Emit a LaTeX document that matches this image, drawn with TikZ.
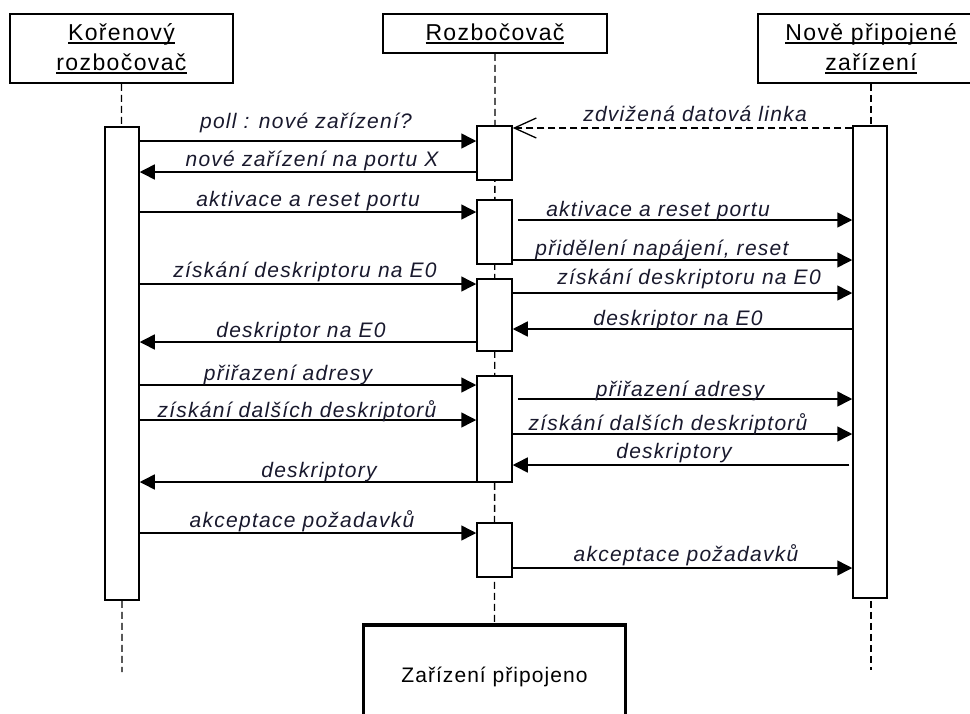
\documentclass[tikz,border=0pt]{standalone}
\usepackage{fontspec}
\setmainfont{Liberation Sans}
\newfontfamily\headfont[LetterSpace=6]{Liberation Sans}
\newfontfamily\lblfont[LetterSpace=6]{Liberation Sans}
\newfontfamily\endfont[LetterSpace=5]{Liberation Sans}
\usetikzlibrary{arrows.meta}
\definecolor{txt}{RGB}{25,25,45}
\newcommand\ulx[1]{\leavevmode\setbox0\hbox{#1}\rlap{\rule[-3.5pt]{\wd0}{1.3pt}}\box0}
\tikzset{
  headbox/.style={draw, line width=1.8pt, fill=white, inner sep=0pt, align=center,
    font=\headfont\fontsize{23}{30}\selectfont, text=black},
  actbar/.style={draw, line width=1.5pt, fill=white, inner sep=0pt, minimum width=35pt},
  lifeline/.style={line width=1.3pt, dash pattern=on 7pt off 4pt},
  msg/.style={line width=1.5pt, -{Triangle[length=15pt,width=15pt]}},
  reply/.style={line width=1.3pt, dash pattern=on 7pt off 4pt, -{Straight Barb[length=22pt,width=20pt,line width=1.3pt]}},
  lbl/.style={font=\lblfont\itshape\fontsize{21}{24}\selectfont, text=txt, inner sep=0pt, anchor=base},
  endbox/.style={draw, line width=3.5pt, inner sep=0pt, font=\endfont\fontsize{21}{24}\selectfont, text=black}
}
\begin{document}
\begin{tikzpicture}[x=1pt,y=-1pt]
\useasboundingbox (0,0) rectangle (970,713);
\clip (0,0) rectangle (970,713);
% heads
\node[headbox, minimum width=223pt, minimum height=69pt] (hL) at (121.5,48.5) {\ulx{Kořenový}\\\ulx{rozbočovač}};
\node[headbox, minimum width=224pt, minimum height=39pt] (hM) at (495,33.5) {\ulx{Rozbočovač}};
\node[headbox, minimum width=226pt, minimum height=69pt] (hR) at (871,48.5) {\ulx{Nově připojené}\\\ulx{zařízení}};
% end box
\node[endbox, minimum width=262pt, minimum height=110pt, anchor=north] (E) at (494.5,623) {\raisebox{10pt}{Zařízení připojeno}};
% lifeline ends
\coordinate (endL) at (122,672);
\coordinate (endR) at (871,670);
\draw[lifeline] (hL.south) -- (endL);
\draw[lifeline] (hM.south) -- (E.north);
\draw[lifeline] (hR.south) -- (endR);
% activation bars
\node[actbar, minimum width=34pt, minimum height=473pt] (L) at (122,363.5) {};
\node[actbar, minimum width=34pt, minimum height=472pt] (R) at (870,362) {};
\node[actbar, minimum height=54pt] (M1) at (494.5,153) {};
\node[actbar, minimum height=64pt] (M2) at (494.5,232) {};
\node[actbar, minimum height=72pt] (M3) at (494.5,315) {};
\node[actbar, minimum height=106pt] (M4) at (494.5,429) {};
\node[actbar, minimum height=54pt] (M5) at (494.5,550) {};
% messages
\draw[msg] (L.east |- 0,141) -- (M1.west |- 0,141);
\node[lbl] (t1) at (306,128) {poll : nové zařízení?};
\draw[msg] (M1.west |- 0,172) -- (L.east |- 0,172);
\node[lbl] (t2) at (312,166) {nové zařízení na portu X};
\draw[reply] (R.west |- 0,128) -- (M1.east |- 0,128);
\node[lbl] (t3) at (695,121) {zdvižená datová linka};
\draw[msg] (L.east |- 0,212) -- (M2.west |- 0,212);
\node[lbl] (t4) at (308,206) {aktivace a reset portu};
\draw[msg] ([xshift=5pt]M2.east |- 0,220) -- (R.west |- 0,220);
\node[lbl] (t5) at (658,216) {aktivace a reset portu};
\draw[msg] (M2.east |- 0,260) -- (R.west |- 0,260);
\node[lbl] (t6) at (662,255) {přidělení napájení, reset};
\draw[msg] (L.east |- 0,284) -- (M3.west |- 0,284);
\node[lbl] (t7) at (305,277) {získání deskriptoru na E0};
\draw[msg] (M3.east |- 0,293) -- (R.west |- 0,293);
\node[lbl] (t8) at (689,284) {získání deskriptoru na E0};
\draw[msg] (R.west |- 0,329) -- (M3.east |- 0,329);
\node[lbl] (t9) at (678,325) {deskriptor na E0};
\draw[msg] (M3.west |- 0,342) -- (L.east |- 0,342);
\node[lbl] (t10) at (301,337) {deskriptor na E0};
\draw[msg] (L.east |- 0,385) -- (M4.west |- 0,385);
\node[lbl] (t11) at (288,380) {přiřazení adresy};
\draw[msg] ([xshift=5pt]M4.east |- 0,399) -- (R.west |- 0,399);
\node[lbl] (t12) at (680,396) {přiřazení adresy};
\draw[msg] (L.east |- 0,420) -- (M4.west |- 0,420);
\node[lbl] (t13) at (297,417) {získání dalších deskriptorů};
\draw[msg] (M4.east |- 0,434) -- (R.west |- 0,434);
\node[lbl] (t14) at (668,430) {získání dalších deskriptorů};
\draw[msg] ([xshift=-3pt]R.west |- 0,465) -- (M4.east |- 0,465);
\node[lbl] (t15) at (674,458) {deskriptory};
\draw[msg] (M4.west |- 0,482) -- (L.east |- 0,482);
\node[lbl] (t16) at (319,477) {deskriptory};
\draw[msg] (L.east |- 0,533) -- (M5.west |- 0,533);
\node[lbl] (t17) at (302,527) {akceptace požadavků};
\draw[msg] (M5.east |- 0,568) -- (R.west |- 0,568);
\node[lbl] (t18) at (686,561) {akceptace požadavků};
\end{tikzpicture}
\end{document}
